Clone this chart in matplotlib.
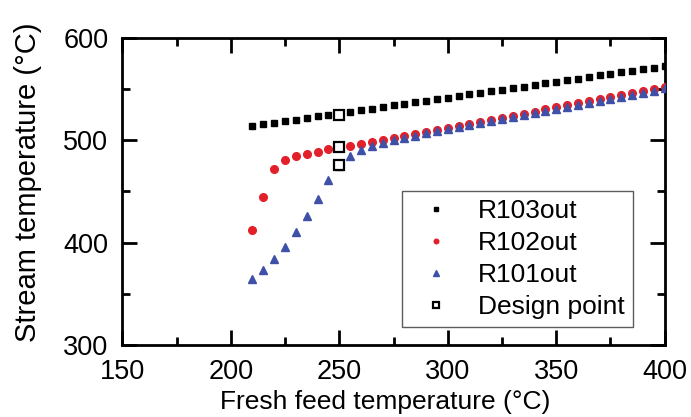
import numpy as np
import matplotlib
matplotlib.use("Agg")
import matplotlib.pyplot as plt
from matplotlib.ticker import MultipleLocator

plt.rcParams['font.family'] = ['Liberation Sans', 'DejaVu Sans']

feed_T = np.arange(210, 401, 5)

r103_out = [514.0, 515.5, 517.0, 518.6, 520.2, 521.7, 523.3, 524.8, 526.3, 527.9,
            529.4, 531.0, 532.5, 534.0, 535.6, 537.1, 538.7, 540.2, 541.7, 543.3,
            544.8, 546.4, 547.9, 549.4, 551.0, 552.5, 554.1, 555.6, 557.1, 558.7,
            560.2, 561.8, 563.3, 564.8, 566.4, 567.9, 569.4, 571.0, 572.5]

r102_out = [412.0, 445.0, 472.0, 481.0, 484.5, 487.0, 489.0, 491.0, 493.0, 494.5,
            496.5, 498.3, 500.3, 502.3, 504.3, 506.3, 508.2, 510.2, 512.2, 514.2,
            516.2, 518.2, 520.2, 522.2, 524.1, 526.1, 528.1, 530.1, 532.1, 534.1,
            536.1, 538.1, 540.0, 542.0, 544.0, 546.0, 548.0, 550.0, 552.0]

r101_out = [364.0, 373.0, 384.0, 396.0, 410.0, 426.0, 443.0, 461.0, 475.0, 485.0,
            490.0, 494.0, 497.5, 500.0, 502.5, 504.6, 506.7, 508.7, 510.8, 512.8,
            514.8, 516.8, 518.8, 520.8, 522.8, 524.8, 526.8, 528.8, 530.8, 532.8,
            534.8, 536.7, 538.7, 540.7, 542.7, 544.7, 546.6, 548.6, 550.6]

design_T = [250, 250, 250]
design_vals = [525.0, 493.0, 476.0]

fig = plt.figure(figsize=(6.91, 4.17), dpi=100)
ax = fig.add_axes([0.177, 0.173, 0.785, 0.736])

ax.plot(feed_T, r103_out, 's', color='black', markersize=5.0, label='R103out', zorder=3)
ax.plot(feed_T, r102_out, 'o', color='#e3202a', markersize=5.5, label='R102out', zorder=3)
ax.plot(feed_T, r101_out, '^', color='#3f50a8', markersize=6.2, label='R101out', zorder=4)
ax.plot(design_T, design_vals, 's', markerfacecolor='white', markeredgecolor='black',
        markeredgewidth=1.6, markersize=7, label='Design point', zorder=5)

ax.set_xlim(150, 400)
ax.set_ylim(300, 600)
ax.xaxis.set_major_locator(MultipleLocator(50))
ax.xaxis.set_minor_locator(MultipleLocator(25))
ax.yaxis.set_major_locator(MultipleLocator(100))
ax.yaxis.set_minor_locator(MultipleLocator(50))
ax.tick_params(which='both', direction='in', top=True, right=True, width=2,
               labelsize=19.5, pad=10)
ax.tick_params(which='major', length=11)
ax.tick_params(which='minor', length=6)
for s in ax.spines.values():
    s.set_linewidth(2)

fig.text(385 / 691, 1 - 402 / 417, 'Fresh feed temperature (°C)', fontsize=19,
         ha='center', va='center')
fig.text(28 / 691, 1 - 182 / 417, 'Stream temperature (°C)', fontsize=21,
         ha='center', va='center', rotation=90)

leg = ax.legend(loc='lower right', fontsize=19, frameon=True, fancybox=False,
                edgecolor='#333333', markerscale=0.6, handlelength=2.0,
                handletextpad=0.6, borderpad=0.3, labelspacing=0.3,
                borderaxespad=0, bbox_to_anchor=(0.941, 0.059))
leg.get_frame().set_linewidth(1.0)

fig.savefig('out.png', dpi=100)
